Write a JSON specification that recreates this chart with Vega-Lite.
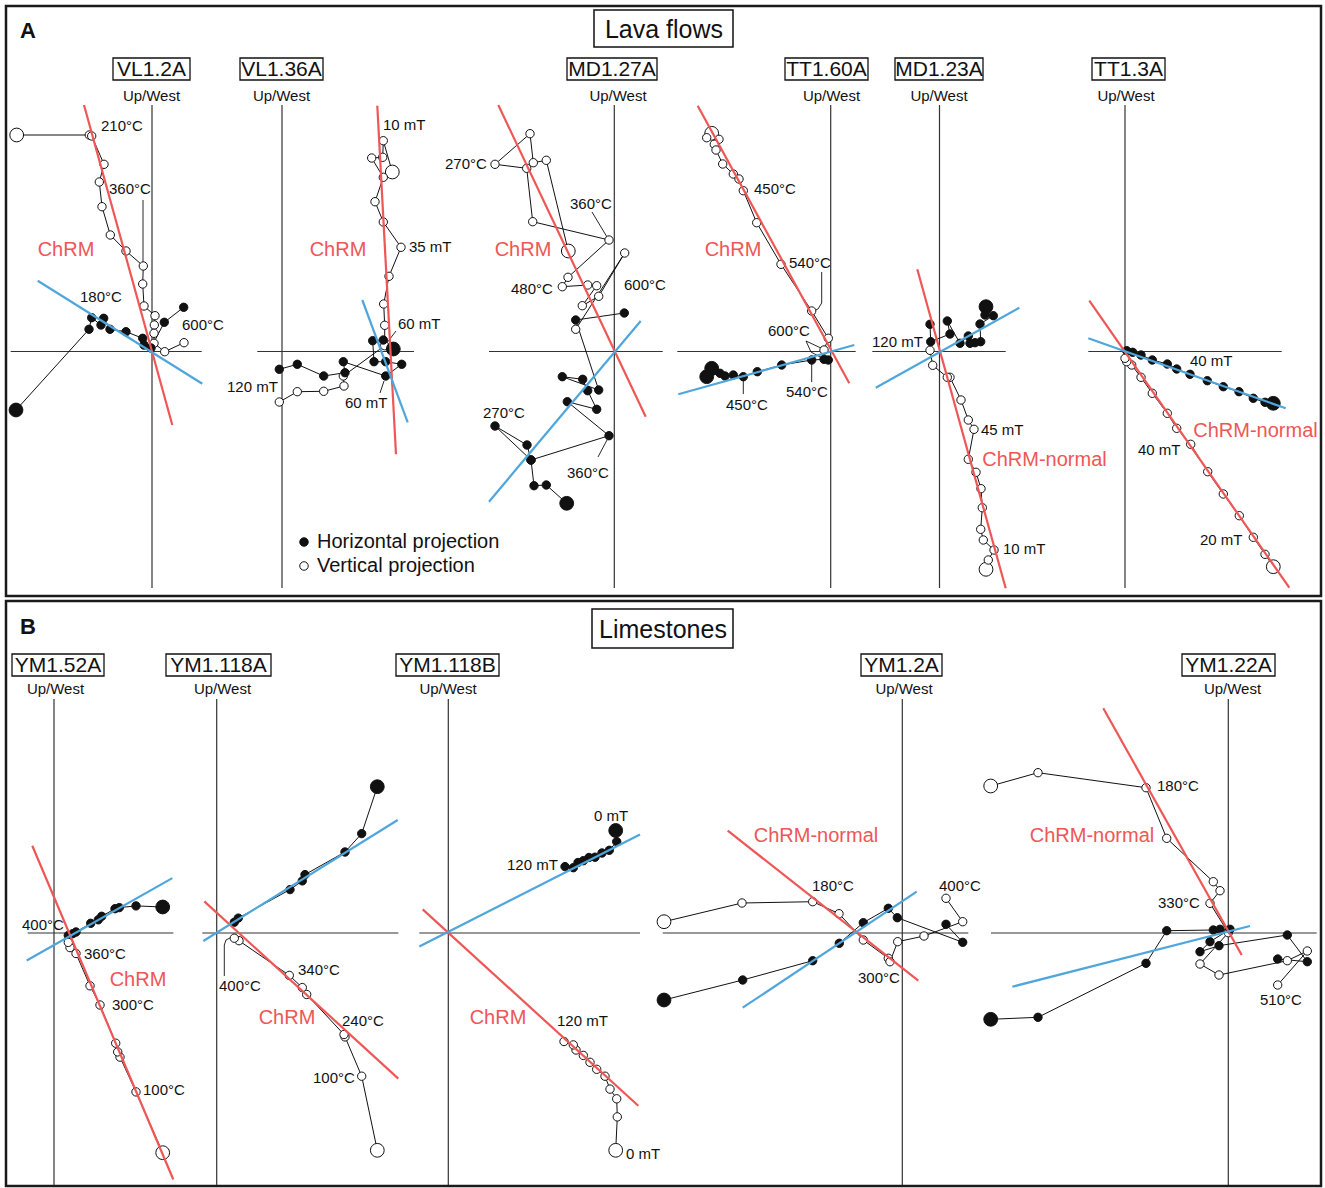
{
  "$schema": "https://vega.github.io/schema/vega-lite/v6.json",
  "width": 1325,
  "height": 1188,
  "padding": 0,
  "autosize": {"type": "fit", "contains": "padding"},
  "background": "white",
  "config": {"view": {"stroke": null}, "font": "Liberation Sans"},
  "datasets": {
    "panels": [
      {"x": 6, "y": 6, "x2": 1321, "y2": 596},
      {"x": 6, "y": 601, "x2": 1321, "y2": 1186}
    ],
    "axes": [
      {"x": 152, "y": 105, "x2": 152, "y2": 588},
      {"x": 282, "y": 105, "x2": 282, "y2": 588},
      {"x": 614.3, "y": 105, "x2": 614.3, "y2": 588},
      {"x": 830.7, "y": 105, "x2": 830.7, "y2": 588},
      {"x": 939.5, "y": 105, "x2": 939.5, "y2": 588},
      {"x": 1125, "y": 105, "x2": 1125, "y2": 588},
      {"x": 10.7, "y": 351.5, "x2": 201.7, "y2": 351.5},
      {"x": 257.3, "y": 351.5, "x2": 414, "y2": 351.5},
      {"x": 489, "y": 351.5, "x2": 662.7, "y2": 351.5},
      {"x": 677.3, "y": 351.5, "x2": 855.7, "y2": 351.5},
      {"x": 872.3, "y": 351.5, "x2": 1005.7, "y2": 351.5},
      {"x": 1088.3, "y": 351.5, "x2": 1281.7, "y2": 351.5},
      {"x": 54, "y": 699, "x2": 54, "y2": 1185},
      {"x": 216.7, "y": 699, "x2": 216.7, "y2": 1185},
      {"x": 448.3, "y": 699, "x2": 448.3, "y2": 1185},
      {"x": 902.3, "y": 699, "x2": 902.3, "y2": 1185},
      {"x": 1228.3, "y": 699, "x2": 1228.3, "y2": 1185},
      {"x": 27.7, "y": 933, "x2": 173.3, "y2": 933},
      {"x": 202.3, "y": 933, "x2": 398.3, "y2": 933},
      {"x": 419.3, "y": 933, "x2": 640, "y2": 933},
      {"x": 662.7, "y": 933, "x2": 968.3, "y2": 933},
      {"x": 991, "y": 933, "x2": 1316.7, "y2": 933}
    ],
    "fits": [
      {"s": "VL1.2A", "p": "V", "x": 84, "y": 105, "x2": 172.3, "y2": 425},
      {"s": "VL1.2A", "p": "H", "x": 37.7, "y": 280.7, "x2": 202.3, "y2": 383.7},
      {"s": "VL1.36A", "p": "V", "x": 377.3, "y": 105.7, "x2": 396, "y2": 454.3},
      {"s": "VL1.36A", "p": "H", "x": 362.3, "y": 300, "x2": 407.7, "y2": 422.3},
      {"s": "MD1.27A", "p": "V", "x": 498.3, "y": 105, "x2": 645.7, "y2": 416.7},
      {"s": "MD1.27A", "p": "H", "x": 640.7, "y": 321, "x2": 489, "y2": 501.7},
      {"s": "TT1.60A", "p": "V", "x": 697.7, "y": 105.7, "x2": 849.3, "y2": 383.3},
      {"s": "TT1.60A", "p": "H", "x": 678.3, "y": 394.3, "x2": 854.3, "y2": 345},
      {"s": "MD1.23A", "p": "V", "x": 917.3, "y": 269.3, "x2": 1005.7, "y2": 588.3},
      {"s": "MD1.23A", "p": "H", "x": 875.7, "y": 387.7, "x2": 1019.3, "y2": 307.7},
      {"s": "TT1.3A", "p": "V", "x": 1089.3, "y": 300.7, "x2": 1289.3, "y2": 587.7},
      {"s": "TT1.3A", "p": "H", "x": 1088.3, "y": 338.3, "x2": 1285.7, "y2": 408.3},
      {"s": "YM1.52A", "p": "V", "x": 32.3, "y": 845.8, "x2": 173.3, "y2": 1179.5},
      {"s": "YM1.52A", "p": "H", "x": 26.7, "y": 960.5, "x2": 172.3, "y2": 878.1},
      {"s": "YM1.118A", "p": "V", "x": 204.3, "y": 901.4, "x2": 398.3, "y2": 1078.6},
      {"s": "YM1.118A", "p": "H", "x": 203.3, "y": 941, "x2": 397.7, "y2": 820},
      {"s": "YM1.118B", "p": "V", "x": 422.7, "y": 909.4, "x2": 638.3, "y2": 1105.8},
      {"s": "YM1.118B", "p": "H", "x": 419.3, "y": 946.6, "x2": 640, "y2": 834.6},
      {"s": "YM1.2A", "p": "V", "x": 727.7, "y": 830.7, "x2": 918.3, "y2": 980.7},
      {"s": "YM1.2A", "p": "H", "x": 742.7, "y": 1007.7, "x2": 916.7, "y2": 891.7},
      {"s": "YM1.22A", "p": "V", "x": 1103.3, "y": 708.3, "x2": 1241.7, "y2": 955},
      {"s": "YM1.22A", "p": "H", "x": 1012.3, "y": 986.7, "x2": 1250, "y2": 926}
    ],
    "steps": [
      {"s": "VL1.2A", "p": "V", "i": 1, "x": 16.7, "y": 135, "nrm": true},
      {"s": "VL1.2A", "p": "V", "i": 2, "x": 89.3, "y": 135},
      {"s": "VL1.2A", "p": "V", "i": 3, "x": 91.7, "y": 136},
      {"s": "VL1.2A", "p": "V", "i": 4, "x": 104, "y": 164.3},
      {"s": "VL1.2A", "p": "V", "i": 5, "x": 99.3, "y": 182},
      {"s": "VL1.2A", "p": "V", "i": 6, "x": 102, "y": 206.7},
      {"s": "VL1.2A", "p": "V", "i": 7, "x": 110.3, "y": 235},
      {"s": "VL1.2A", "p": "V", "i": 8, "x": 126, "y": 251},
      {"s": "VL1.2A", "p": "V", "i": 9, "x": 143.3, "y": 266},
      {"s": "VL1.2A", "p": "V", "i": 10, "x": 142.7, "y": 284},
      {"s": "VL1.2A", "p": "V", "i": 11, "x": 144, "y": 306},
      {"s": "VL1.2A", "p": "V", "i": 12, "x": 155, "y": 315.7},
      {"s": "VL1.2A", "p": "V", "i": 13, "x": 154.3, "y": 325},
      {"s": "VL1.2A", "p": "V", "i": 14, "x": 154, "y": 333.3},
      {"s": "VL1.2A", "p": "V", "i": 15, "x": 154, "y": 343.3},
      {"s": "VL1.2A", "p": "V", "i": 16, "x": 164.7, "y": 351.7},
      {"s": "VL1.2A", "p": "V", "i": 17, "x": 184, "y": 342.7},
      {"s": "VL1.2A", "p": "H", "i": 1, "x": 16, "y": 410, "nrm": true},
      {"s": "VL1.2A", "p": "H", "i": 2, "x": 89, "y": 329.3},
      {"s": "VL1.2A", "p": "H", "i": 3, "x": 91.7, "y": 317.7},
      {"s": "VL1.2A", "p": "H", "i": 4, "x": 101, "y": 325},
      {"s": "VL1.2A", "p": "H", "i": 5, "x": 103.7, "y": 318.3},
      {"s": "VL1.2A", "p": "H", "i": 6, "x": 110, "y": 329.3},
      {"s": "VL1.2A", "p": "H", "i": 7, "x": 126, "y": 331.7},
      {"s": "VL1.2A", "p": "H", "i": 8, "x": 142.7, "y": 338.3},
      {"s": "VL1.2A", "p": "H", "i": 9, "x": 144, "y": 345},
      {"s": "VL1.2A", "p": "H", "i": 10, "x": 151, "y": 348},
      {"s": "VL1.2A", "p": "H", "i": 11, "x": 164.3, "y": 322.3},
      {"s": "VL1.2A", "p": "H", "i": 12, "x": 183.7, "y": 307.3},

      {"s": "VL1.36A", "p": "V", "i": 1, "x": 392.3, "y": 172, "nrm": true},
      {"s": "VL1.36A", "p": "V", "i": 2, "x": 383.3, "y": 140.7},
      {"s": "VL1.36A", "p": "V", "i": 3, "x": 382.7, "y": 157.3},
      {"s": "VL1.36A", "p": "V", "i": 4, "x": 371.7, "y": 158},
      {"s": "VL1.36A", "p": "V", "i": 5, "x": 383.3, "y": 177.3},
      {"s": "VL1.36A", "p": "V", "i": 6, "x": 375, "y": 201.7},
      {"s": "VL1.36A", "p": "V", "i": 7, "x": 383.3, "y": 222},
      {"s": "VL1.36A", "p": "V", "i": 8, "x": 401, "y": 247.3},
      {"s": "VL1.36A", "p": "V", "i": 9, "x": 389, "y": 276.3},
      {"s": "VL1.36A", "p": "V", "i": 10, "x": 383.7, "y": 304},
      {"s": "VL1.36A", "p": "V", "i": 11, "x": 384.7, "y": 325.3},
      {"s": "VL1.36A", "p": "V", "i": 12, "x": 384.7, "y": 345.7},
      {"s": "VL1.36A", "p": "V", "i": 13, "x": 343.3, "y": 376},
      {"s": "VL1.36A", "p": "V", "i": 14, "x": 344, "y": 386},
      {"s": "VL1.36A", "p": "V", "i": 15, "x": 323.7, "y": 391.3},
      {"s": "VL1.36A", "p": "V", "i": 16, "x": 297.3, "y": 391.7},
      {"s": "VL1.36A", "p": "V", "i": 17, "x": 279.3, "y": 402},
      {"s": "VL1.36A", "p": "H", "i": 1, "x": 393.3, "y": 349, "nrm": true},
      {"s": "VL1.36A", "p": "H", "i": 2, "x": 383.3, "y": 340},
      {"s": "VL1.36A", "p": "H", "i": 3, "x": 372.7, "y": 340.7},
      {"s": "VL1.36A", "p": "H", "i": 4, "x": 374, "y": 361.7},
      {"s": "VL1.36A", "p": "H", "i": 5, "x": 385.7, "y": 361.7},
      {"s": "VL1.36A", "p": "H", "i": 6, "x": 401.7, "y": 364.3},
      {"s": "VL1.36A", "p": "H", "i": 7, "x": 385.7, "y": 376},
      {"s": "VL1.36A", "p": "H", "i": 8, "x": 343.3, "y": 361.7},
      {"s": "VL1.36A", "p": "H", "i": 9, "x": 345, "y": 372.7},
      {"s": "VL1.36A", "p": "H", "i": 10, "x": 323.7, "y": 376},
      {"s": "VL1.36A", "p": "H", "i": 11, "x": 297.3, "y": 364.3},
      {"s": "VL1.36A", "p": "H", "i": 12, "x": 279.3, "y": 369.3},

      {"s": "MD1.27A", "p": "V", "i": 1, "x": 568.3, "y": 251, "nrm": true},
      {"s": "MD1.27A", "p": "V", "i": 2, "x": 546.3, "y": 160.3},
      {"s": "MD1.27A", "p": "V", "i": 3, "x": 533.3, "y": 162.7},
      {"s": "MD1.27A", "p": "V", "i": 4, "x": 530, "y": 133.7},
      {"s": "MD1.27A", "p": "V", "i": 5, "x": 495, "y": 164.3},
      {"s": "MD1.27A", "p": "V", "i": 6, "x": 526.7, "y": 168.3},
      {"s": "MD1.27A", "p": "V", "i": 7, "x": 532.7, "y": 221.7},
      {"s": "MD1.27A", "p": "V", "i": 8, "x": 609, "y": 240},
      {"s": "MD1.27A", "p": "V", "i": 9, "x": 568, "y": 277.3},
      {"s": "MD1.27A", "p": "V", "i": 10, "x": 562.3, "y": 286.7},
      {"s": "MD1.27A", "p": "V", "i": 11, "x": 587.7, "y": 285},
      {"s": "MD1.27A", "p": "V", "i": 12, "x": 596.7, "y": 285.7},
      {"s": "MD1.27A", "p": "V", "i": 13, "x": 582.3, "y": 305.7},
      {"s": "MD1.27A", "p": "V", "i": 14, "x": 598.7, "y": 296.3},
      {"s": "MD1.27A", "p": "V", "i": 15, "x": 624.7, "y": 253},
      {"s": "MD1.27A", "p": "V", "i": 16, "x": 575.7, "y": 329.3},
      {"s": "MD1.27A", "p": "H", "i": 1, "x": 566.7, "y": 503.3, "nrm": true},
      {"s": "MD1.27A", "p": "H", "i": 2, "x": 546.3, "y": 485},
      {"s": "MD1.27A", "p": "H", "i": 3, "x": 534, "y": 485.7},
      {"s": "MD1.27A", "p": "H", "i": 4, "x": 531, "y": 460},
      {"s": "MD1.27A", "p": "H", "i": 5, "x": 527, "y": 445},
      {"s": "MD1.27A", "p": "H", "i": 6, "x": 495, "y": 426},
      {"s": "MD1.27A", "p": "H", "i": 7, "x": 531, "y": 460},
      {"s": "MD1.27A", "p": "H", "i": 8, "x": 609, "y": 435.7},
      {"s": "MD1.27A", "p": "H", "i": 9, "x": 567.3, "y": 401.7},
      {"s": "MD1.27A", "p": "H", "i": 10, "x": 596.7, "y": 409.3},
      {"s": "MD1.27A", "p": "H", "i": 11, "x": 587.7, "y": 390.7},
      {"s": "MD1.27A", "p": "H", "i": 12, "x": 582.7, "y": 379.3},
      {"s": "MD1.27A", "p": "H", "i": 13, "x": 562.3, "y": 376.7},
      {"s": "MD1.27A", "p": "H", "i": 14, "x": 598.7, "y": 390},
      {"s": "MD1.27A", "p": "H", "i": 15, "x": 575.7, "y": 320},
      {"s": "MD1.27A", "p": "H", "i": 16, "x": 624.3, "y": 313},

      {"s": "TT1.60A", "p": "V", "i": 1, "x": 711.7, "y": 133.3, "nrm": true},
      {"s": "TT1.60A", "p": "V", "i": 2, "x": 706.7, "y": 137.7},
      {"s": "TT1.60A", "p": "V", "i": 3, "x": 719, "y": 139.3},
      {"s": "TT1.60A", "p": "V", "i": 4, "x": 714.3, "y": 144.3},
      {"s": "TT1.60A", "p": "V", "i": 5, "x": 716, "y": 150},
      {"s": "TT1.60A", "p": "V", "i": 6, "x": 722.7, "y": 164},
      {"s": "TT1.60A", "p": "V", "i": 7, "x": 733.3, "y": 174},
      {"s": "TT1.60A", "p": "V", "i": 8, "x": 739, "y": 179},
      {"s": "TT1.60A", "p": "V", "i": 9, "x": 743.3, "y": 190.7},
      {"s": "TT1.60A", "p": "V", "i": 10, "x": 756.7, "y": 222.7},
      {"s": "TT1.60A", "p": "V", "i": 11, "x": 781, "y": 264.3},
      {"s": "TT1.60A", "p": "V", "i": 12, "x": 811.7, "y": 311},
      {"s": "TT1.60A", "p": "V", "i": 13, "x": 828.3, "y": 338.3},
      {"s": "TT1.60A", "p": "V", "i": 14, "x": 824, "y": 350},
      {"s": "TT1.60A", "p": "H", "i": 1, "x": 711.7, "y": 368.3, "nrm": true},
      {"s": "TT1.60A", "p": "H", "i": 2, "x": 706.7, "y": 376.7, "nrm": true},
      {"s": "TT1.60A", "p": "H", "i": 3, "x": 720, "y": 373.3},
      {"s": "TT1.60A", "p": "H", "i": 4, "x": 725, "y": 376},
      {"s": "TT1.60A", "p": "H", "i": 5, "x": 733.3, "y": 375},
      {"s": "TT1.60A", "p": "H", "i": 6, "x": 743.3, "y": 376.7},
      {"s": "TT1.60A", "p": "H", "i": 7, "x": 757.3, "y": 371.7},
      {"s": "TT1.60A", "p": "H", "i": 8, "x": 781.7, "y": 365},
      {"s": "TT1.60A", "p": "H", "i": 9, "x": 811.7, "y": 360},
      {"s": "TT1.60A", "p": "H", "i": 10, "x": 824, "y": 359.3},
      {"s": "TT1.60A", "p": "H", "i": 11, "x": 828.3, "y": 360},

      {"s": "MD1.23A", "p": "H", "i": 1, "x": 986, "y": 306.7, "nrm": true},
      {"s": "MD1.23A", "p": "H", "i": 2, "x": 985, "y": 315},
      {"s": "MD1.23A", "p": "H", "i": 3, "x": 993.3, "y": 315.7},
      {"s": "MD1.23A", "p": "H", "i": 4, "x": 980, "y": 324},
      {"s": "MD1.23A", "p": "H", "i": 5, "x": 980.7, "y": 341.7},
      {"s": "MD1.23A", "p": "H", "i": 6, "x": 975, "y": 342.7},
      {"s": "MD1.23A", "p": "H", "i": 7, "x": 970, "y": 343.3},
      {"s": "MD1.23A", "p": "H", "i": 8, "x": 968.3, "y": 336},
      {"s": "MD1.23A", "p": "H", "i": 9, "x": 960, "y": 343.3},
      {"s": "MD1.23A", "p": "H", "i": 10, "x": 947.3, "y": 321},
      {"s": "MD1.23A", "p": "H", "i": 11, "x": 950, "y": 334},
      {"s": "MD1.23A", "p": "H", "i": 12, "x": 930.7, "y": 341.7},
      {"s": "MD1.23A", "p": "H", "i": 13, "x": 930, "y": 324.3},
      {"s": "MD1.23A", "p": "V", "i": 1, "x": 986, "y": 569.3, "nrm": true},
      {"s": "MD1.23A", "p": "V", "i": 2, "x": 988.3, "y": 560},
      {"s": "MD1.23A", "p": "V", "i": 3, "x": 994, "y": 550},
      {"s": "MD1.23A", "p": "V", "i": 4, "x": 983.3, "y": 540},
      {"s": "MD1.23A", "p": "V", "i": 5, "x": 980.7, "y": 529.3},
      {"s": "MD1.23A", "p": "V", "i": 6, "x": 982.3, "y": 507.7},
      {"s": "MD1.23A", "p": "V", "i": 7, "x": 981, "y": 488.7},
      {"s": "MD1.23A", "p": "V", "i": 8, "x": 976, "y": 472.3},
      {"s": "MD1.23A", "p": "V", "i": 9, "x": 968.3, "y": 459.3},
      {"s": "MD1.23A", "p": "V", "i": 10, "x": 974, "y": 429.3},
      {"s": "MD1.23A", "p": "V", "i": 11, "x": 968.3, "y": 420},
      {"s": "MD1.23A", "p": "V", "i": 12, "x": 961, "y": 400},
      {"s": "MD1.23A", "p": "V", "i": 13, "x": 950, "y": 377.3},
      {"s": "MD1.23A", "p": "V", "i": 14, "x": 947.3, "y": 377.3},
      {"s": "MD1.23A", "p": "V", "i": 15, "x": 932.7, "y": 365.3},
      {"s": "MD1.23A", "p": "V", "i": 16, "x": 930, "y": 350.3},

      {"s": "TT1.3A", "p": "H", "i": 1, "x": 1273.3, "y": 403.3, "nrm": true},
      {"s": "TT1.3A", "p": "H", "i": 2, "x": 1265, "y": 402.3},
      {"s": "TT1.3A", "p": "H", "i": 3, "x": 1253.3, "y": 398.3},
      {"s": "TT1.3A", "p": "H", "i": 4, "x": 1239, "y": 391.7},
      {"s": "TT1.3A", "p": "H", "i": 5, "x": 1223.3, "y": 386.7},
      {"s": "TT1.3A", "p": "H", "i": 6, "x": 1207.3, "y": 380.7},
      {"s": "TT1.3A", "p": "H", "i": 7, "x": 1190, "y": 374.3},
      {"s": "TT1.3A", "p": "H", "i": 8, "x": 1176.7, "y": 369},
      {"s": "TT1.3A", "p": "H", "i": 9, "x": 1167.3, "y": 364},
      {"s": "TT1.3A", "p": "H", "i": 10, "x": 1152.3, "y": 360},
      {"s": "TT1.3A", "p": "H", "i": 11, "x": 1141, "y": 355},
      {"s": "TT1.3A", "p": "H", "i": 12, "x": 1132.7, "y": 352.3},
      {"s": "TT1.3A", "p": "H", "i": 13, "x": 1126.7, "y": 350.7},
      {"s": "TT1.3A", "p": "V", "i": 1, "x": 1273.3, "y": 566.7, "nrm": true},
      {"s": "TT1.3A", "p": "V", "i": 2, "x": 1265, "y": 554.3},
      {"s": "TT1.3A", "p": "V", "i": 3, "x": 1253.3, "y": 537.3},
      {"s": "TT1.3A", "p": "V", "i": 4, "x": 1239.3, "y": 515.7},
      {"s": "TT1.3A", "p": "V", "i": 5, "x": 1223.3, "y": 494},
      {"s": "TT1.3A", "p": "V", "i": 6, "x": 1207.7, "y": 471.7},
      {"s": "TT1.3A", "p": "V", "i": 7, "x": 1190.7, "y": 444.3},
      {"s": "TT1.3A", "p": "V", "i": 8, "x": 1176.7, "y": 428.3},
      {"s": "TT1.3A", "p": "V", "i": 9, "x": 1167.3, "y": 413.3},
      {"s": "TT1.3A", "p": "V", "i": 10, "x": 1152.3, "y": 393.3},
      {"s": "TT1.3A", "p": "V", "i": 11, "x": 1141, "y": 377.3},
      {"s": "TT1.3A", "p": "V", "i": 12, "x": 1131.7, "y": 365},
      {"s": "TT1.3A", "p": "V", "i": 13, "x": 1126.7, "y": 361.7},
      {"s": "TT1.3A", "p": "V", "i": 14, "x": 1125, "y": 358.3},

      {"s": "YM1.52A", "p": "H", "i": 1, "x": 162.7, "y": 907, "nrm": true},
      {"s": "YM1.52A", "p": "H", "i": 2, "x": 136, "y": 905.9},
      {"s": "YM1.52A", "p": "H", "i": 3, "x": 119.3, "y": 907.6},
      {"s": "YM1.52A", "p": "H", "i": 4, "x": 115, "y": 908.7},
      {"s": "YM1.52A", "p": "H", "i": 5, "x": 101.7, "y": 916.3},
      {"s": "YM1.52A", "p": "H", "i": 6, "x": 98.3, "y": 919.8},
      {"s": "YM1.52A", "p": "H", "i": 7, "x": 90.7, "y": 923.3},
      {"s": "YM1.52A", "p": "H", "i": 8, "x": 76, "y": 932},
      {"s": "YM1.52A", "p": "H", "i": 9, "x": 72.7, "y": 933.7},
      {"s": "YM1.52A", "p": "H", "i": 10, "x": 68.3, "y": 935.4},
      {"s": "YM1.52A", "p": "V", "i": 1, "x": 162.7, "y": 1152.7, "nrm": true},
      {"s": "YM1.52A", "p": "V", "i": 2, "x": 136, "y": 1091.9},
      {"s": "YM1.52A", "p": "V", "i": 3, "x": 120, "y": 1057.1},
      {"s": "YM1.52A", "p": "V", "i": 4, "x": 117.7, "y": 1051.9},
      {"s": "YM1.52A", "p": "V", "i": 5, "x": 115.7, "y": 1043.2},
      {"s": "YM1.52A", "p": "V", "i": 6, "x": 100, "y": 1005},
      {"s": "YM1.52A", "p": "V", "i": 7, "x": 90, "y": 985.8},
      {"s": "YM1.52A", "p": "V", "i": 8, "x": 76, "y": 953.5},
      {"s": "YM1.52A", "p": "V", "i": 9, "x": 70, "y": 947.6},
      {"s": "YM1.52A", "p": "V", "i": 10, "x": 68.3, "y": 942.4},

      {"s": "YM1.118A", "p": "H", "i": 1, "x": 377.3, "y": 786.7, "nrm": true},
      {"s": "YM1.118A", "p": "H", "i": 2, "x": 361.7, "y": 833.6},
      {"s": "YM1.118A", "p": "H", "i": 3, "x": 345, "y": 852},
      {"s": "YM1.118A", "p": "H", "i": 4, "x": 305, "y": 874.6},
      {"s": "YM1.118A", "p": "H", "i": 5, "x": 302.3, "y": 880.9},
      {"s": "YM1.118A", "p": "H", "i": 6, "x": 290, "y": 889.6},
      {"s": "YM1.118A", "p": "H", "i": 7, "x": 238.3, "y": 918.1},
      {"s": "YM1.118A", "p": "H", "i": 8, "x": 234.3, "y": 922.2},
      {"s": "YM1.118A", "p": "V", "i": 1, "x": 377.3, "y": 1150.3, "nrm": true},
      {"s": "YM1.118A", "p": "V", "i": 2, "x": 361.7, "y": 1076.2},
      {"s": "YM1.118A", "p": "V", "i": 3, "x": 345, "y": 1036.9},
      {"s": "YM1.118A", "p": "V", "i": 4, "x": 344, "y": 1034.5},
      {"s": "YM1.118A", "p": "V", "i": 5, "x": 306.7, "y": 994.5},
      {"s": "YM1.118A", "p": "V", "i": 6, "x": 302.3, "y": 987.6},
      {"s": "YM1.118A", "p": "V", "i": 7, "x": 289.3, "y": 975.4},
      {"s": "YM1.118A", "p": "V", "i": 8, "x": 239, "y": 940.7},
      {"s": "YM1.118A", "p": "V", "i": 9, "x": 234.3, "y": 938.2},

      {"s": "YM1.118B", "p": "H", "i": 1, "x": 615.7, "y": 830.5, "nrm": true},
      {"s": "YM1.118B", "p": "H", "i": 2, "x": 616.7, "y": 841.6},
      {"s": "YM1.118B", "p": "H", "i": 3, "x": 609.3, "y": 850.3},
      {"s": "YM1.118B", "p": "H", "i": 4, "x": 602, "y": 853},
      {"s": "YM1.118B", "p": "H", "i": 5, "x": 595, "y": 857.2},
      {"s": "YM1.118B", "p": "H", "i": 6, "x": 589, "y": 857.5},
      {"s": "YM1.118B", "p": "H", "i": 7, "x": 583.3, "y": 860.7},
      {"s": "YM1.118B", "p": "H", "i": 8, "x": 578, "y": 862.5},
      {"s": "YM1.118B", "p": "H", "i": 9, "x": 573.3, "y": 867.7},
      {"s": "YM1.118B", "p": "H", "i": 10, "x": 565, "y": 866.6},
      {"s": "YM1.118B", "p": "V", "i": 1, "x": 615.7, "y": 1150.3, "nrm": true},
      {"s": "YM1.118B", "p": "V", "i": 2, "x": 617.3, "y": 1116.9},
      {"s": "YM1.118B", "p": "V", "i": 3, "x": 616.7, "y": 1098.8},
      {"s": "YM1.118B", "p": "V", "i": 4, "x": 610, "y": 1089.1},
      {"s": "YM1.118B", "p": "V", "i": 5, "x": 605, "y": 1076.2},
      {"s": "YM1.118B", "p": "V", "i": 6, "x": 596.7, "y": 1069.3},
      {"s": "YM1.118B", "p": "V", "i": 7, "x": 590, "y": 1062.3},
      {"s": "YM1.118B", "p": "V", "i": 8, "x": 583.3, "y": 1055.4},
      {"s": "YM1.118B", "p": "V", "i": 9, "x": 576, "y": 1050},
      {"s": "YM1.118B", "p": "V", "i": 10, "x": 573.3, "y": 1044.9},
      {"s": "YM1.118B", "p": "V", "i": 11, "x": 564, "y": 1041.5},

      {"s": "YM1.2A", "p": "V", "i": 1, "x": 664, "y": 921.7, "nrm": true},
      {"s": "YM1.2A", "p": "V", "i": 2, "x": 742, "y": 903},
      {"s": "YM1.2A", "p": "V", "i": 3, "x": 812.7, "y": 901.7},
      {"s": "YM1.2A", "p": "V", "i": 4, "x": 839, "y": 913.7},
      {"s": "YM1.2A", "p": "V", "i": 5, "x": 863.3, "y": 940},
      {"s": "YM1.2A", "p": "V", "i": 6, "x": 888.3, "y": 958.3},
      {"s": "YM1.2A", "p": "V", "i": 7, "x": 890, "y": 961.7},
      {"s": "YM1.2A", "p": "V", "i": 8, "x": 897.7, "y": 941.7},
      {"s": "YM1.2A", "p": "V", "i": 9, "x": 924, "y": 936},
      {"s": "YM1.2A", "p": "V", "i": 10, "x": 962.7, "y": 921.7},
      {"s": "YM1.2A", "p": "V", "i": 11, "x": 946, "y": 898.3},
      {"s": "YM1.2A", "p": "H", "i": 1, "x": 664, "y": 1000, "nrm": true},
      {"s": "YM1.2A", "p": "H", "i": 2, "x": 742.7, "y": 980},
      {"s": "YM1.2A", "p": "H", "i": 3, "x": 812.7, "y": 960.7},
      {"s": "YM1.2A", "p": "H", "i": 4, "x": 839.3, "y": 943.3},
      {"s": "YM1.2A", "p": "H", "i": 5, "x": 863.3, "y": 922.7},
      {"s": "YM1.2A", "p": "H", "i": 6, "x": 888.3, "y": 908.3},
      {"s": "YM1.2A", "p": "H", "i": 7, "x": 897.3, "y": 917.7},
      {"s": "YM1.2A", "p": "H", "i": 8, "x": 962.7, "y": 942.3},
      {"s": "YM1.2A", "p": "H", "i": 9, "x": 946, "y": 924.3},

      {"s": "YM1.22A", "p": "V", "i": 1, "x": 990.7, "y": 786, "nrm": true},
      {"s": "YM1.22A", "p": "V", "i": 2, "x": 1038, "y": 772.7},
      {"s": "YM1.22A", "p": "V", "i": 3, "x": 1146, "y": 787.7},
      {"s": "YM1.22A", "p": "V", "i": 4, "x": 1166.7, "y": 838.3},
      {"s": "YM1.22A", "p": "V", "i": 5, "x": 1213.3, "y": 881.7},
      {"s": "YM1.22A", "p": "V", "i": 6, "x": 1220, "y": 890.7},
      {"s": "YM1.22A", "p": "V", "i": 7, "x": 1210, "y": 903.3},
      {"s": "YM1.22A", "p": "V", "i": 8, "x": 1228.3, "y": 932.7},
      {"s": "YM1.22A", "p": "V", "i": 9, "x": 1200, "y": 964},
      {"s": "YM1.22A", "p": "V", "i": 10, "x": 1219, "y": 975},
      {"s": "YM1.22A", "p": "V", "i": 11, "x": 1287.3, "y": 960.7},
      {"s": "YM1.22A", "p": "V", "i": 12, "x": 1307.3, "y": 951},
      {"s": "YM1.22A", "p": "V", "i": 13, "x": 1277.7, "y": 985},
      {"s": "YM1.22A", "p": "H", "i": 1, "x": 990.7, "y": 1019.3, "nrm": true},
      {"s": "YM1.22A", "p": "H", "i": 2, "x": 1038, "y": 1017.3},
      {"s": "YM1.22A", "p": "H", "i": 3, "x": 1146, "y": 963.3},
      {"s": "YM1.22A", "p": "H", "i": 4, "x": 1166.7, "y": 930.7},
      {"s": "YM1.22A", "p": "H", "i": 5, "x": 1213.3, "y": 930},
      {"s": "YM1.22A", "p": "H", "i": 6, "x": 1220, "y": 929.3},
      {"s": "YM1.22A", "p": "H", "i": 7, "x": 1230, "y": 929.3},
      {"s": "YM1.22A", "p": "H", "i": 8, "x": 1210, "y": 941.7},
      {"s": "YM1.22A", "p": "H", "i": 9, "x": 1200, "y": 951.7},
      {"s": "YM1.22A", "p": "H", "i": 10, "x": 1219, "y": 945.7},
      {"s": "YM1.22A", "p": "H", "i": 11, "x": 1287.3, "y": 935},
      {"s": "YM1.22A", "p": "H", "i": 12, "x": 1307.3, "y": 961.7},
      {"s": "YM1.22A", "p": "H", "i": 13, "x": 1277.7, "y": 959}
    ],
    "leaders": [
      {"id": 1, "k": 1, "x": 143, "y": 200}, {"id": 1, "k": 2, "x": 143, "y": 262},
      {"id": 2, "k": 1, "x": 380, "y": 393}, {"id": 2, "k": 2, "x": 384, "y": 381},
      {"id": 3, "k": 1, "x": 386, "y": 344}, {"id": 3, "k": 2, "x": 396, "y": 331},
      {"id": 4, "k": 1, "x": 592, "y": 212}, {"id": 4, "k": 2, "x": 607, "y": 237},
      {"id": 5, "k": 1, "x": 607, "y": 440}, {"id": 5, "k": 2, "x": 598, "y": 457},
      {"id": 6, "k": 1, "x": 821.7, "y": 272}, {"id": 6, "k": 2, "x": 821.7, "y": 303}, {"id": 6, "k": 3, "x": 818, "y": 309}, {"id": 6, "k": 4, "x": 813, "y": 311},
      {"id": 7, "k": 1, "x": 823, "y": 349}, {"id": 7, "k": 2, "x": 806, "y": 341}, {"id": 7, "k": 3, "x": 811, "y": 352}, {"id": 7, "k": 4, "x": 822, "y": 358},
      {"id": 8, "k": 1, "x": 743.3, "y": 380}, {"id": 8, "k": 2, "x": 743.3, "y": 394},
      {"id": 9, "k": 1, "x": 811.7, "y": 363}, {"id": 9, "k": 2, "x": 811.7, "y": 382},
      {"id": 10, "k": 1, "x": 231.7, "y": 937}, {"id": 10, "k": 2, "x": 226, "y": 940}, {"id": 10, "k": 3, "x": 224.3, "y": 945}, {"id": 10, "k": 4, "x": 224.3, "y": 976}
    ],
    "steplabels": [
      {"t": "210°C", "x": 101, "y": 126}, {"t": "360°C", "x": 109, "y": 189}, {"t": "180°C", "x": 80, "y": 297}, {"t": "600°C", "x": 182, "y": 325},
      {"t": "10 mT", "x": 383, "y": 125}, {"t": "35 mT", "x": 409, "y": 247}, {"t": "60 mT", "x": 398, "y": 324}, {"t": "120 mT", "x": 227, "y": 387}, {"t": "60 mT", "x": 345, "y": 403},
      {"t": "270°C", "x": 445, "y": 164}, {"t": "360°C", "x": 570, "y": 204}, {"t": "480°C", "x": 511, "y": 289}, {"t": "600°C", "x": 624, "y": 285}, {"t": "270°C", "x": 483, "y": 413}, {"t": "360°C", "x": 567, "y": 473},
      {"t": "450°C", "x": 754, "y": 189}, {"t": "540°C", "x": 789, "y": 263}, {"t": "600°C", "x": 768, "y": 331}, {"t": "450°C", "x": 726, "y": 405}, {"t": "540°C", "x": 786, "y": 392},
      {"t": "120 mT", "x": 872, "y": 342}, {"t": "45 mT", "x": 981, "y": 430}, {"t": "10 mT", "x": 1003, "y": 549},
      {"t": "40 mT", "x": 1190, "y": 361}, {"t": "40 mT", "x": 1138, "y": 450}, {"t": "20 mT", "x": 1200, "y": 540},
      {"t": "400°C", "x": 22, "y": 925}, {"t": "360°C", "x": 84, "y": 954}, {"t": "300°C", "x": 112, "y": 1005}, {"t": "100°C", "x": 143, "y": 1090},
      {"t": "340°C", "x": 298, "y": 970}, {"t": "400°C", "x": 219, "y": 986}, {"t": "240°C", "x": 342, "y": 1021}, {"t": "100°C", "x": 313, "y": 1078},
      {"t": "0 mT", "x": 594, "y": 816}, {"t": "120 mT", "x": 507, "y": 865}, {"t": "120 mT", "x": 557, "y": 1021}, {"t": "0 mT", "x": 626, "y": 1154},
      {"t": "180°C", "x": 812, "y": 886}, {"t": "400°C", "x": 939, "y": 886}, {"t": "300°C", "x": 858, "y": 978},
      {"t": "180°C", "x": 1157, "y": 786}, {"t": "330°C", "x": 1158, "y": 903}, {"t": "510°C", "x": 1260, "y": 1000}
    ],
    "fitlabels": [
      {"t": "ChRM", "x": 66, "y": 250}, {"t": "ChRM", "x": 338, "y": 250}, {"t": "ChRM", "x": 523, "y": 250}, {"t": "ChRM", "x": 733, "y": 250},
      {"t": "ChRM-normal", "x": 1044.5, "y": 460}, {"t": "ChRM-normal", "x": 1255.5, "y": 431},
      {"t": "ChRM", "x": 138, "y": 980}, {"t": "ChRM", "x": 287, "y": 1018}, {"t": "ChRM", "x": 498, "y": 1018},
      {"t": "ChRM-normal", "x": 816, "y": 836}, {"t": "ChRM-normal", "x": 1092, "y": 836}
    ],
    "updir": [
      {"t": "Up/West", "x": 151.5, "y": 96}, {"t": "Up/West", "x": 281.5, "y": 96}, {"t": "Up/West", "x": 618, "y": 96},
      {"t": "Up/West", "x": 831.5, "y": 96}, {"t": "Up/West", "x": 939, "y": 96}, {"t": "Up/West", "x": 1126, "y": 96},
      {"t": "Up/West", "x": 55.5, "y": 689}, {"t": "Up/West", "x": 222.5, "y": 689}, {"t": "Up/West", "x": 448, "y": 689},
      {"t": "Up/West", "x": 904, "y": 689}, {"t": "Up/West", "x": 1232.5, "y": 689}
    ],
    "names": [
      {"t": "VL1.2A", "x": 151.5, "y": 69, "bx": 113, "bx2": 190, "by": 58, "by2": 80},
      {"t": "VL1.36A", "x": 281.5, "y": 69, "bx": 240, "bx2": 323, "by": 58, "by2": 80},
      {"t": "MD1.27A", "x": 612, "y": 69, "bx": 567, "bx2": 657, "by": 58, "by2": 80},
      {"t": "TT1.60A", "x": 826.5, "y": 69, "bx": 785, "bx2": 868, "by": 58, "by2": 80},
      {"t": "MD1.23A", "x": 939, "y": 69, "bx": 895, "bx2": 983, "by": 58, "by2": 80},
      {"t": "TT1.3A", "x": 1128.5, "y": 69, "bx": 1092, "bx2": 1165, "by": 58, "by2": 80},
      {"t": "YM1.52A", "x": 58, "y": 665, "bx": 12, "bx2": 104, "by": 654, "by2": 676},
      {"t": "YM1.118A", "x": 218.5, "y": 665, "bx": 166, "bx2": 271, "by": 654, "by2": 676},
      {"t": "YM1.118B", "x": 447.5, "y": 665, "bx": 396, "bx2": 499, "by": 654, "by2": 676},
      {"t": "YM1.2A", "x": 901.5, "y": 665, "bx": 861, "bx2": 942, "by": 654, "by2": 676},
      {"t": "YM1.22A", "x": 1228.5, "y": 665, "bx": 1182, "bx2": 1275, "by": 654, "by2": 676}
    ],
    "titles": [
      {"t": "Lava flows", "x": 664, "y": 29, "bx": 594, "bx2": 733, "by": 10, "by2": 47},
      {"t": "Limestones", "x": 663, "y": 629, "bx": 592, "bx2": 733, "by": 609, "by2": 648}
    ],
    "letters": [
      {"t": "A", "x": 28, "y": 31},
      {"t": "B", "x": 28, "y": 627}
    ]
  },
  "encoding": {
    "x": {"field": "x", "type": "quantitative", "scale": {"domain": [0, 1325], "nice": false, "zero": false}, "axis": null},
    "y": {"field": "y", "type": "quantitative", "scale": {"domain": [0, 1188], "nice": false, "zero": false, "reverse": true}, "axis": null}
  },
  "layer": [
    {
      "data": {"name": "panels"},
      "mark": {"type": "rect", "fill": "transparent", "stroke": "#1a1a1a", "strokeWidth": 2.5},
      "encoding": {"x2": {"field": "x2"}, "y2": {"field": "y2"}}
    },
    {
      "data": {"name": "axes"},
      "mark": {"type": "rule", "color": "#333333", "strokeWidth": 1.2},
      "encoding": {"x2": {"field": "x2"}, "y2": {"field": "y2"}}
    },
    {
      "data": {"name": "steps"},
      "mark": {"type": "line", "color": "#111111", "strokeWidth": 1},
      "encoding": {
        "detail": [{"field": "s"}, {"field": "p"}],
        "order": {"field": "i", "type": "quantitative"}
      }
    },
    {
      "data": {"name": "leaders"},
      "mark": {"type": "line", "color": "#111111", "strokeWidth": 0.9},
      "encoding": {
        "detail": {"field": "id"},
        "order": {"field": "k", "type": "quantitative"}
      }
    },
    {
      "data": {"name": "steps"},
      "mark": {"type": "point", "shape": "circle", "filled": true, "stroke": "#111111", "strokeWidth": 1, "opacity": 1, "fillOpacity": 1},
      "encoding": {
        "fill": {
          "field": "p", "type": "nominal",
          "scale": {"domain": ["H", "V"], "range": ["#111111", "#ffffff"]},
          "legend": {
            "orient": "none", "legendX": 294, "legendY": 532, "title": null,
            "labelExpr": "datum.value == 'H' ? 'Horizontal projection' : 'Vertical projection'",
            "labelFontSize": 20, "labelFont": "Liberation Sans", "labelColor": "#111111", "labelLimit": 0,
            "symbolSize": 72, "symbolStrokeColor": "#111111", "symbolStrokeWidth": 1,
            "rowPadding": 4, "labelOffset": 3, "padding": 0
          }
        },
        "size": {"condition": {"test": "datum.nrm", "value": 190}, "value": 70}
      }
    },
    {
      "data": {"name": "fits"},
      "mark": {"type": "rule", "strokeWidth": 2.2},
      "encoding": {
        "x2": {"field": "x2"}, "y2": {"field": "y2"},
        "stroke": {"field": "p", "type": "nominal", "scale": {"domain": ["V", "H"], "range": ["#ef5656", "#4ea6dc"]}, "legend": null}
      }
    },
    {
      "data": {"name": "steplabels"},
      "mark": {"type": "text", "align": "left", "baseline": "middle", "fontSize": 15, "color": "#111111", "font": "Liberation Sans"},
      "encoding": {"text": {"field": "t"}}
    },
    {
      "data": {"name": "fitlabels"},
      "mark": {"type": "text", "align": "center", "baseline": "middle", "fontSize": 20, "color": "#ef5656", "font": "Liberation Sans"},
      "encoding": {"text": {"field": "t"}}
    },
    {
      "data": {"name": "updir"},
      "mark": {"type": "text", "align": "center", "baseline": "middle", "fontSize": 15, "color": "#111111", "font": "Liberation Sans"},
      "encoding": {"text": {"field": "t"}}
    },
    {
      "data": {"name": "names"},
      "mark": {"type": "rect", "fill": "white", "stroke": "#111111", "strokeWidth": 1.3},
      "encoding": {
        "x": {"field": "bx", "type": "quantitative"}, "x2": {"field": "bx2"},
        "y": {"field": "by", "type": "quantitative"}, "y2": {"field": "by2"}
      }
    },
    {
      "data": {"name": "names"},
      "mark": {"type": "text", "align": "center", "baseline": "middle", "fontSize": 21, "color": "#111111", "font": "Liberation Sans", "dy": 1},
      "encoding": {"text": {"field": "t"}}
    },
    {
      "data": {"name": "titles"},
      "mark": {"type": "rect", "fill": "white", "stroke": "#111111", "strokeWidth": 1.5},
      "encoding": {
        "x": {"field": "bx", "type": "quantitative"}, "x2": {"field": "bx2"},
        "y": {"field": "by", "type": "quantitative"}, "y2": {"field": "by2"}
      }
    },
    {
      "data": {"name": "titles"},
      "mark": {"type": "text", "align": "center", "baseline": "middle", "fontSize": 25, "color": "#111111", "font": "Liberation Sans", "dy": 1},
      "encoding": {"text": {"field": "t"}}
    },
    {
      "data": {"name": "letters"},
      "mark": {"type": "text", "align": "center", "baseline": "middle", "fontSize": 22, "fontWeight": "bold", "color": "#111111", "font": "Liberation Sans"},
      "encoding": {"text": {"field": "t"}}
    }
  ]
}
